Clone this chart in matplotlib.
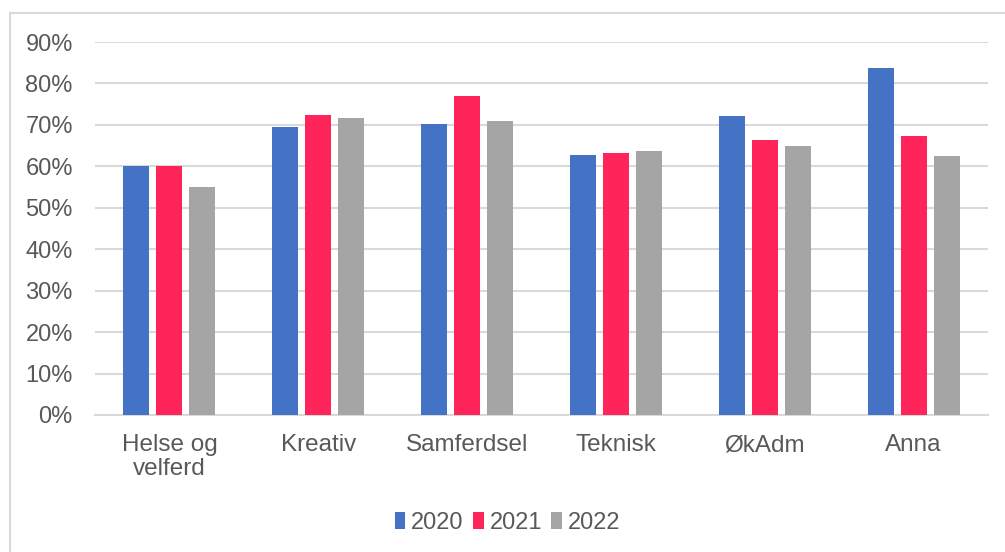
import numpy as np
import matplotlib.pyplot as plt
from matplotlib.patches import Rectangle
from matplotlib.ticker import PercentFormatter

categories = ['Helse og\nvelferd', 'Kreativ', 'Samferdsel', 'Teknisk', 'ØkAdm', 'Anna']
years = ['2020', '2021', '2022']
v2020 = [0.602, 0.696, 0.701, 0.628, 0.722, 0.837]
v2021 = [0.602, 0.724, 0.769, 0.632, 0.664, 0.674]
v2022 = [0.551, 0.717, 0.710, 0.637, 0.649, 0.624]
colors = ['#4472C4', '#FF2459', '#A5A5A5']

plt.rcParams['font.family'] = ['Liberation Sans', 'DejaVu Sans']
text_color = '#595959'
grid_color = '#D9D9D9'

fig = plt.figure(figsize=(10.05, 5.52), dpi=100)
ax = fig.add_axes([0.0945, 0.2482, 0.8886, 0.6757])

x = np.arange(len(categories))
step = 0.222
width = 0.175
for i, (vals, col, yr) in enumerate(zip([v2020, v2021, v2022], colors, years)):
    ax.bar(x + (i - 1) * step, vals, width, color=col, label=yr, zorder=3)

ax.set_xlim(-0.5, len(categories) - 0.5)
ax.set_ylim(0, 0.9)
ax.set_yticks(np.arange(0, 0.91, 0.1))
ax.yaxis.set_major_formatter(PercentFormatter(1.0, decimals=0))
ax.set_xticks(x)
ax.set_xticklabels(categories, linespacing=1.1)
ax.grid(axis='y', color=grid_color, linewidth=1.5, zorder=0)
for s in ['top', 'right', 'left']:
    ax.spines[s].set_visible(False)
ax.spines['bottom'].set_color(grid_color)
ax.spines['bottom'].set_linewidth(1.5)
ax.tick_params(axis='y', length=0, pad=16, labelsize=17, labelcolor=text_color)
ax.tick_params(axis='x', length=0, pad=14, labelsize=17.5, labelcolor=text_color)

fig.legend(loc='center', bbox_to_anchor=(0.505, 0.053), ncol=3, frameon=False,
           fontsize=17, labelcolor=text_color, handlelength=0.45, handleheight=0.75,
           handletextpad=0.25, columnspacing=0.4)

# outer chart border
fig.patches.append(Rectangle((9.5 / 1005, -0.1), 1.2, 1.1 - 13 / 552,
                             transform=fig.transFigure, fill=False,
                             edgecolor=grid_color, linewidth=1.5))

fig.savefig('out.png', dpi=100)
